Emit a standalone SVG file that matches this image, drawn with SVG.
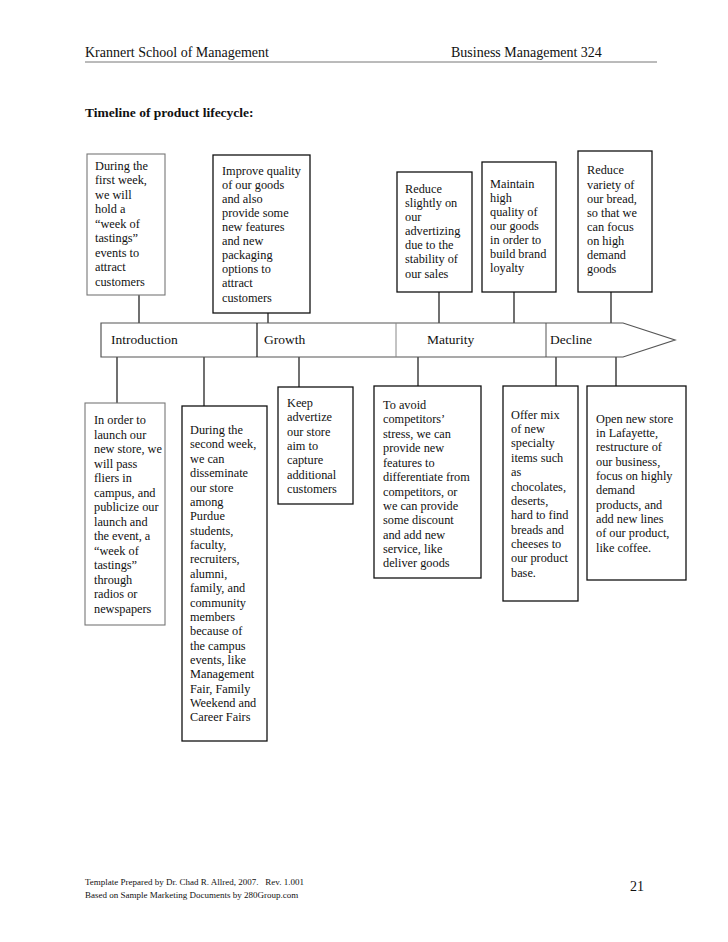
<svg xmlns="http://www.w3.org/2000/svg" width="728" height="942" viewBox="0 0 728 942">
<style>
text{font-family:"Liberation Serif","Times New Roman",serif;fill:#111}
.t{font-size:12.3px}
.box{fill:#fff;stroke:#111;stroke-width:1.3}
.gbox{fill:#fff;stroke:#777;stroke-width:1.1}
.con line{stroke:#111;stroke-width:1.2}
.hdr{font-size:14px}
.ft{font-size:9px}
</style>
<rect width="728" height="942" fill="#fff"/>
<g id="header">
<text class="hdr" x="85" y="57">Krannert School of Management</text>
<text class="hdr" x="451" y="57">Business Management 324</text>
<line x1="85" y1="62" x2="657" y2="62" stroke="#777" stroke-width="1"/>
<text x="85" y="117" font-size="13.5" font-weight="bold">Timeline of product lifecycle:</text>
</g>
<g class="con" id="connectors">
<line x1="139" y1="295" x2="139" y2="323"/>
<line x1="268" y1="313" x2="268" y2="323"/>
<line x1="439" y1="292" x2="439" y2="323"/>
<line x1="514" y1="292" x2="514" y2="323"/>
<line x1="611" y1="292" x2="611" y2="323"/>
<line x1="117" y1="357" x2="117" y2="403"/>
<line x1="204" y1="357" x2="204" y2="406"/>
<line x1="299" y1="357" x2="299" y2="387"/>
<line x1="418" y1="357" x2="418" y2="386"/>
<line x1="556" y1="357" x2="556" y2="386"/>
<line x1="616" y1="357" x2="616" y2="386"/>
</g>
<g id="timeline">
<polygon points="101,323 623,323 675,340 623,357 101,357" fill="#fff" stroke="#555" stroke-width="1.2"/>
<line x1="257" y1="323" x2="257" y2="357" stroke="#111" stroke-width="1.2"/>
<line x1="396" y1="323" x2="396" y2="357" stroke="#888" stroke-width="1"/>
<line x1="546" y1="323" x2="546" y2="357" stroke="#555" stroke-width="1"/>
<text x="111" y="344" font-size="13.5">Introduction</text>
<text x="264" y="344" font-size="13.5">Growth</text>
<text x="427" y="344" font-size="13.5">Maturity</text>
<text x="550" y="344" font-size="13.5">Decline</text>
</g>
<g id="top1">
<rect class="gbox" x="87" y="154" width="78" height="141"/>
<text class="t" x="95"><tspan x="95" y="170">During the</tspan><tspan x="95" y="184">first week,</tspan><tspan x="95" y="199">we will</tspan><tspan x="95" y="213">hold a</tspan><tspan x="95" y="228">“week of</tspan><tspan x="95" y="242">tastings”</tspan><tspan x="95" y="257">events to</tspan><tspan x="95" y="271">attract</tspan><tspan x="95" y="286">customers</tspan></text>
</g>
<g id="top2">
<rect class="box" x="213" y="155" width="97" height="158"/>
<text class="t"><tspan x="222" y="175">Improve quality</tspan><tspan x="222" y="189">of our goods</tspan><tspan x="222" y="203">and also</tspan><tspan x="222" y="217">provide some</tspan><tspan x="222" y="231">new features</tspan><tspan x="222" y="245">and new</tspan><tspan x="222" y="259">packaging</tspan><tspan x="222" y="273">options to</tspan><tspan x="222" y="287">attract</tspan><tspan x="222" y="302">customers</tspan></text>
</g>
<g id="top3">
<rect class="box" x="397" y="172" width="75" height="120"/>
<text class="t"><tspan x="405" y="193">Reduce</tspan><tspan x="405" y="207">slightly on</tspan><tspan x="405" y="221">our</tspan><tspan x="405" y="235">advertizing</tspan><tspan x="405" y="249">due to the</tspan><tspan x="405" y="263">stability of</tspan><tspan x="405" y="278">our sales</tspan></text>
</g>
<g id="top4">
<rect class="box" x="482" y="162" width="74" height="130"/>
<text class="t"><tspan x="490" y="188">Maintain</tspan><tspan x="490" y="202">high</tspan><tspan x="490" y="216">quality of</tspan><tspan x="490" y="230">our goods</tspan><tspan x="490" y="244">in order to</tspan><tspan x="490" y="258">build brand</tspan><tspan x="490" y="272">loyalty</tspan></text>
</g>
<g id="top5">
<rect class="box" x="578" y="151" width="74" height="141"/>
<text class="t"><tspan x="587" y="174">Reduce</tspan><tspan x="587" y="189">variety of</tspan><tspan x="587" y="203">our bread,</tspan><tspan x="587" y="217">so that we</tspan><tspan x="587" y="231">can focus</tspan><tspan x="587" y="245">on high</tspan><tspan x="587" y="259">demand</tspan><tspan x="587" y="273">goods</tspan></text>
</g>
<g id="bot1">
<rect class="gbox" x="85" y="403" width="80" height="222"/>
<text class="t"><tspan x="94" y="424">In order to</tspan><tspan x="94" y="439">launch our</tspan><tspan x="94" y="453">new store, we</tspan><tspan x="94" y="468">will pass</tspan><tspan x="94" y="482">fliers in</tspan><tspan x="94" y="497">campus, and</tspan><tspan x="94" y="511">publicize our</tspan><tspan x="94" y="526">launch and</tspan><tspan x="94" y="540">the event, a</tspan><tspan x="94" y="555">“week of</tspan><tspan x="94" y="569">tastings”</tspan><tspan x="94" y="584">through</tspan><tspan x="94" y="598">radios or</tspan><tspan x="94" y="613">newspapers</tspan></text>
</g>
<g id="bot2">
<rect class="box" x="182" y="406" width="85" height="335"/>
<text class="t"><tspan x="190" y="434">During the</tspan><tspan x="190" y="448">second week,</tspan><tspan x="190" y="463">we can</tspan><tspan x="190" y="477">disseminate</tspan><tspan x="190" y="492">our store</tspan><tspan x="190" y="506">among</tspan><tspan x="190" y="520">Purdue</tspan><tspan x="190" y="535">students,</tspan><tspan x="190" y="549">faculty,</tspan><tspan x="190" y="563">recruiters,</tspan><tspan x="190" y="578">alumni,</tspan><tspan x="190" y="592">family, and</tspan><tspan x="190" y="607">community</tspan><tspan x="190" y="621">members</tspan><tspan x="190" y="635">because of</tspan><tspan x="190" y="650">the campus</tspan><tspan x="190" y="664">events, like</tspan><tspan x="190" y="678">Management</tspan><tspan x="190" y="693">Fair, Family</tspan><tspan x="190" y="707">Weekend and</tspan><tspan x="190" y="721">Career Fairs</tspan></text>
</g>
<g id="bot3">
<rect class="box" x="278" y="387" width="75" height="117"/>
<text class="t"><tspan x="287" y="407">Keep</tspan><tspan x="287" y="421">advertize</tspan><tspan x="287" y="436">our store</tspan><tspan x="287" y="450">aim to</tspan><tspan x="287" y="464">capture</tspan><tspan x="287" y="479">additional</tspan><tspan x="287" y="493">customers</tspan></text>
</g>
<g id="bot4">
<rect class="box" x="374" y="386" width="107" height="192"/>
<text class="t"><tspan x="383" y="409">To avoid</tspan><tspan x="383" y="423">competitors’</tspan><tspan x="383" y="438">stress, we can</tspan><tspan x="383" y="452">provide new</tspan><tspan x="383" y="467">features to</tspan><tspan x="383" y="481">differentiate from</tspan><tspan x="383" y="496">competitors, or</tspan><tspan x="383" y="510">we can provide</tspan><tspan x="383" y="524">some discount</tspan><tspan x="383" y="539">and add new</tspan><tspan x="383" y="553">service, like</tspan><tspan x="383" y="567">deliver goods</tspan></text>
</g>
<g id="bot5">
<rect class="box" x="503" y="386" width="75" height="215"/>
<text class="t"><tspan x="511" y="419">Offer mix</tspan><tspan x="511" y="433">of new</tspan><tspan x="511" y="447">specialty</tspan><tspan x="511" y="462">items such</tspan><tspan x="511" y="476">as</tspan><tspan x="511" y="491">chocolates,</tspan><tspan x="511" y="505">deserts,</tspan><tspan x="511" y="519">hard to find</tspan><tspan x="511" y="534">breads and</tspan><tspan x="511" y="548">cheeses to</tspan><tspan x="511" y="562">our product</tspan><tspan x="511" y="577">base.</tspan></text>
</g>
<g id="bot6">
<rect class="box" x="587" y="386" width="99" height="194"/>
<text class="t"><tspan x="596" y="423">Open new store</tspan><tspan x="596" y="437">in Lafayette,</tspan><tspan x="596" y="451">restructure of</tspan><tspan x="596" y="466">our business,</tspan><tspan x="596" y="480">focus on highly</tspan><tspan x="596" y="494">demand</tspan><tspan x="596" y="509">products, and</tspan><tspan x="596" y="523">add new lines</tspan><tspan x="596" y="537">of our product,</tspan><tspan x="596" y="552">like coffee.</tspan></text>
</g>
<g id="footer">
<text class="ft" x="85" y="885" xml:space="preserve">Template Prepared by Dr. Chad R. Allred, 2007.   Rev. 1.001</text>
<text class="ft" x="85" y="898">Based on Sample Marketing Documents by 280Group.com</text>
<text x="630" y="891" font-size="14">21</text>
</g>
</svg>
